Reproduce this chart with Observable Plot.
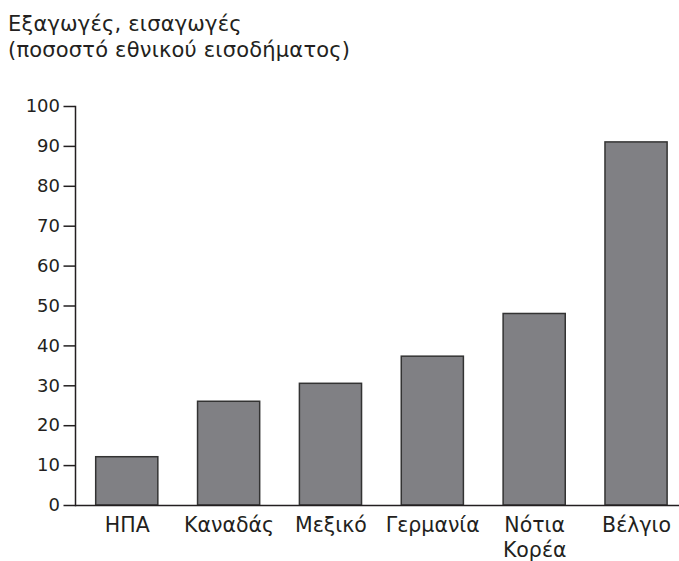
<!DOCTYPE html>
<html>
<head>
<meta charset="utf-8">
<script src="https://cdn.jsdelivr.net/npm/d3@7"></script>
<script src="https://cdn.jsdelivr.net/npm/@observablehq/plot@0.6"></script>
<style>
  body { margin: 0; background: #fff; font-family: "DejaVu Sans", sans-serif; color: #231f20; }
  #title { height: 70px; box-sizing: border-box; padding: 11px 0 0 8px; font-size: 21px; line-height: 26px; letter-spacing: 0.2px; }
  #title div { white-space: nowrap; }
  #chart svg { overflow: visible; }
</style>
</head>
<body>
<div id="title"><div>Εξαγωγές, εισαγωγές</div><div>(ποσοστό εθνικού εισοδήματος)</div></div>
<div id="chart"></div>
<script>
const countries = ["ΗΠΑ", "Καναδάς", "Μεξικό", "Γερμανία", "Νότια Κορέα", "Βέλγιο"];
const tradeShare = [12.1, 26.0, 30.5, 37.3, 48.0, 91.0];
const yTicks = [0, 10, 20, 30, 40, 50, 60, 70, 80, 90, 100];

const data = countries.map((c, i) => ({country: c, value: tradeShare[i]}));

const chart = Plot.plot({
  width: 679,
  height: 491,
  marginLeft: 75,
  marginRight: 0,
  marginTop: 36,
  marginBottom: 56,
  style: {fontFamily: '"DejaVu Sans", sans-serif', color: "#231f20", background: "#fff", overflow: "visible"},
  x: {domain: countries, paddingInner: 0.39, paddingOuter: 0.16, align: 0.635, round: false, label: null},
  y: {domain: [0, 100], label: null},
  marks: [
    Plot.barY(data, {x: "country", y: "value", fill: "#808084", stroke: "#333", strokeWidth: 1.5}),
    Plot.frame({anchor: "left", stroke: "#231f20", strokeWidth: 1.5}),
    Plot.ruleY([0], {stroke: "#231f20", strokeWidth: 1.5}),
    Plot.axisY({ticks: yTicks, tickSize: 11.5, tickPadding: 4, fontSize: 18, label: null, stroke: "#231f20", strokeWidth: 1.5}),
    Plot.axisX({tickSize: 0, tickPadding: 9, fontSize: 20.5, lineHeight: 1.2, label: null,
      tickFormat: d => d.replace(" ", "\n")})
  ]
});
document.getElementById("chart").appendChild(chart);
</script>
</body>
</html>
